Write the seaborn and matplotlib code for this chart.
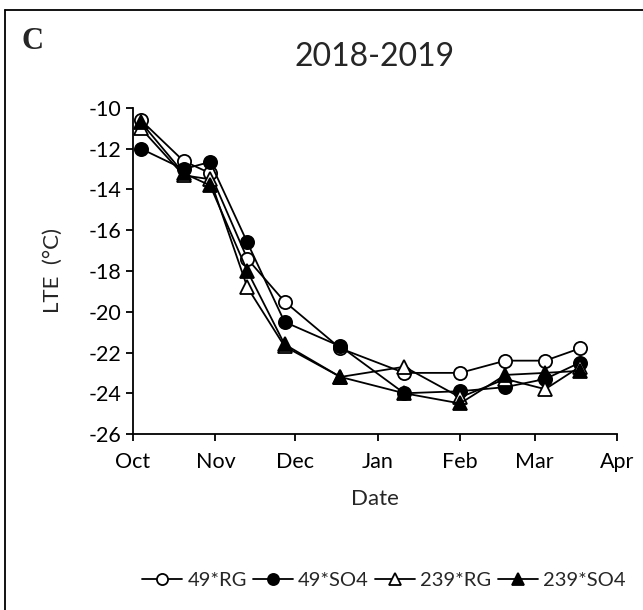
import pandas as pd
import seaborn as sns
import matplotlib
matplotlib.use('Agg')
import matplotlib.pyplot as plt
import matplotlib.dates as mdates
from matplotlib.lines import Line2D

# Sampling dates (2018-2019 season)
dates = pd.to_datetime(['2018-10-04', '2018-10-20', '2018-10-30', '2018-11-13', '2018-11-27',
                        '2018-12-18', '2019-01-11', '2019-02-01', '2019-02-18', '2019-03-05',
                        '2019-03-18'])

# LTE values (°C)
lte_49_rg = [-10.6, -12.6, -13.2, -17.4, -19.5, -21.8, -23.0, -23.0, -22.4, -22.4, -21.8]
lte_49_so4 = [-12.0, -13.0, -12.65, -16.6, -20.5, -21.7, -24.0, -23.9, -23.7, -23.3, -22.5]
lte_239_rg = [-11.0, -13.3, -13.5, -18.8, -21.7, -23.2, -22.7, -24.2, -23.3, -23.8, -22.7]
lte_239_so4 = [-10.7, -13.2, -13.8, -18.0, -21.6, -23.2, -24.0, -24.5, -23.1, -23.0, -22.9]

series_names = ['49*RG', '49*SO4', '239*RG', '239*SO4']
series_values = [lte_49_rg, lte_49_so4, lte_239_rg, lte_239_so4]
series_markers = ['o', 'o', '^', '^']
series_faces = ['white', 'black', 'white', 'black']

sns.set_style('ticks')
plt.rcParams['font.family'] = ['Lato', 'DejaVu Sans']
plt.rcParams['axes.unicode_minus'] = False

fig = plt.figure(figsize=(6.43, 6.10), dpi=100)
ax = fig.add_axes([0.2068, 0.2885, 0.7528, 0.5345])

for name, vals, mk, fc in zip(series_names, series_values, series_markers, series_faces):
    sns.lineplot(x=dates, y=vals, ax=ax, color='black', linewidth=1.3,
                 marker=mk, markersize=9.5, markerfacecolor=fc,
                 markeredgecolor='black', markeredgewidth=1.3, label=name, legend=False)

ax.set_xlim(pd.Timestamp('2018-10-01'), pd.Timestamp('2019-04-01'))
ax.set_ylim(-26, -10)
ax.set_yticks(range(-26, -9, 2))
ax.xaxis.set_major_locator(mdates.MonthLocator())
ax.xaxis.set_major_formatter(mdates.DateFormatter('%b'))
ax.tick_params(axis='both', direction='out', length=5, width=1.3, labelsize=15.5, colors='black')
ax.tick_params(axis='x', pad=8)
for side in ['left', 'bottom']:
    ax.spines[side].set_linewidth(1.3)
    ax.spines[side].set_color('black')
ax.spines['top'].set_visible(False)
ax.spines['right'].set_visible(False)
ax.set_xlabel('Date', fontsize=16, labelpad=12)
ax.set_ylabel('LTE  (°C)', fontsize=16, labelpad=18)
ax.set_title('2018-2019', fontsize=23, pad=30)

fig.text(0.033, 0.932, 'C', fontsize=22, fontweight='bold', family='Liberation Serif',
         va='center', ha='left')

handles = [Line2D([], [], color='black', linewidth=1.3, marker=mk, markersize=8,
                  markerfacecolor=fc, markeredgecolor='black', markeredgewidth=1.3)
           for mk, fc in zip(series_markers, series_faces)]
fig.legend(handles, series_names, loc='center', bbox_to_anchor=(0.597, 0.049), ncol=4,
           frameon=False, fontsize=14.5, handlelength=2.0, handletextpad=0.25,
           columnspacing=0.3, borderpad=0, borderaxespad=0)

# Frame around the panel (top and left edges visible)
fig.add_artist(Line2D([0.008, 1.0], [0.984, 0.984], color='black', linewidth=1.3,
                      transform=fig.transFigure))
fig.add_artist(Line2D([0.008, 0.008], [0.0, 0.984], color='black', linewidth=1.3,
                      transform=fig.transFigure))

fig.savefig('out.png', dpi=100)
